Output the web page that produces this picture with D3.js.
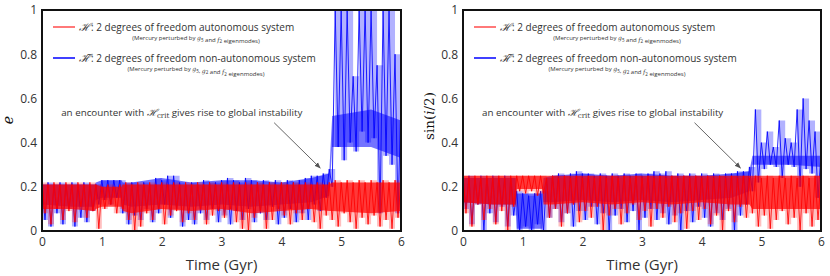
<!DOCTYPE html>
<html>
<head>
<meta charset="utf-8">
<script src="https://cdn.jsdelivr.net/npm/d3@7"></script>
<style>
  body { margin: 0; background: #fff; }
  text { font-family: "Open Sans", "DejaVu Sans", sans-serif; fill: #333; }
</style>
</head>
<body>
<div id="chart"></div>
<script>
// time grid: one sample every 0.05 Gyr, values alternate local max / local min
var tStep = 0.05;

var eRed = [
  0.22,0.08, 0.21,0.03, 0.22,0.10, 0.21,0.05, 0.22,0.09, 0.21,0.04, 0.22,0.11, 0.21,0.06, 0.22,0.09, 0.21,0.01,
  0.20,0.10, 0.21,0.12, 0.20,0.08, 0.21,0.10, 0.22,0.05, 0.21,0.00, 0.22,0.02, 0.21,0.08, 0.22,0.05, 0.21,0.10,
  0.22,0.03, 0.21,0.07, 0.22,0.09, 0.21,0.04, 0.22,0.08, 0.21,0.05, 0.22,0.10, 0.21,0.03, 0.22,0.07, 0.21,0.09,
  0.22,0.06, 0.21,0.10, 0.22,0.04, 0.21,0.01, 0.22,0.00, 0.21,0.06, 0.22,0.09, 0.21,0.01, 0.22,0.05, 0.21,0.10,
  0.22,0.07, 0.21,0.03, 0.22,0.08, 0.21,0.05, 0.22,0.10, 0.21,0.04, 0.22,0.01, 0.21,0.07, 0.22,0.05, 0.23,0.02,
  0.22,0.08, 0.23,0.04, 0.22,0.01, 0.23,0.06, 0.22,0.03, 0.23,0.07, 0.22,0.02, 0.23,0.05, 0.22,0.01, 0.23,0.06,
  0.22
];

var eBlue = [
  0.21,0.05, 0.22,0.02, 0.21,0.08, 0.22,0.03, 0.21,0.10, 0.22,0.02, 0.21,0.06, 0.22,0.04, 0.21,0.09, 0.21,0.12,
  0.23,0.14, 0.23,0.12, 0.23,0.15, 0.23,0.08, 0.21,0.03, 0.22,0.07, 0.21,0.05, 0.22,0.10, 0.21,0.04, 0.24,0.08,
  0.23,0.12, 0.25,0.06, 0.25,0.10, 0.22,0.02, 0.21,0.05, 0.22,0.03, 0.21,0.08, 0.23,0.05, 0.22,0.10, 0.22,0.04,
  0.23,0.07, 0.24,0.03, 0.23,0.09, 0.22,0.05, 0.24,0.10, 0.23,0.04, 0.22,0.08, 0.23,0.05, 0.22,0.11, 0.23,0.03,
  0.22,0.06, 0.23,0.10, 0.22,0.04, 0.23,0.08, 0.24,0.05, 0.25,0.12, 0.25,0.09, 0.26,0.15, 0.28,0.20, 1.00,0.38,
  1.00,0.32, 1.00,0.40, 0.70,0.36, 1.00,0.45, 1.00,0.40, 1.00,0.42, 0.75,0.08, 1.00,0.34, 1.00,0.30, 0.80,0.08,
  0.60
];

var iRed = [
  0.25,0.08, 0.24,0.02, 0.25,0.12, 0.24,0.05, 0.25,0.10, 0.24,0.03, 0.25,0.09, 0.24,0.00, 0.25,0.11, 0.25,0.18,
  0.25,0.17, 0.25,0.18, 0.25,0.16, 0.25,0.17, 0.24,0.06, 0.25,0.10, 0.24,0.02, 0.25,0.08, 0.24,0.12, 0.25,0.04,
  0.24,0.09, 0.25,0.06, 0.24,0.11, 0.25,0.00, 0.24,0.07, 0.25,0.10, 0.24,0.03, 0.25,0.08, 0.24,0.12, 0.25,0.05,
  0.24,0.09, 0.25,0.02, 0.24,0.10, 0.25,0.06, 0.24,0.11, 0.25,0.04, 0.24,0.08, 0.25,0.01, 0.24,0.09, 0.25,0.05,
  0.24,0.10, 0.25,0.03, 0.24,0.07, 0.25,0.00, 0.24,0.09, 0.25,0.04, 0.24,0.11, 0.25,0.06, 0.24,0.08, 0.25,0.02,
  0.24,0.07, 0.25,0.01, 0.24,0.05, 0.25,0.09, 0.24,0.03, 0.25,0.06, 0.24,0.00, 0.25,0.08, 0.24,0.02, 0.25,0.05,
  0.24
];

var iBlue = [
  0.24,0.10, 0.25,0.03, 0.24,0.12, 0.25,0.00, 0.24,0.08, 0.25,0.04, 0.24,0.11, 0.25,0.02, 0.24,0.07, 0.18,0.00,
  0.17,0.02, 0.16,0.00, 0.17,0.03, 0.18,0.00, 0.24,0.06, 0.25,0.10, 0.26,0.04, 0.25,0.08, 0.26,0.02, 0.27,0.09,
  0.26,0.05, 0.26,0.11, 0.25,0.03, 0.26,0.08, 0.25,0.00, 0.26,0.07, 0.25,0.10, 0.26,0.04, 0.25,0.09, 0.26,0.00,
  0.25,0.06, 0.26,0.10, 0.27,0.05, 0.26,0.08, 0.27,0.03, 0.25,0.07, 0.26,0.00, 0.25,0.09, 0.26,0.04, 0.25,0.11,
  0.26,0.06, 0.25,0.02, 0.26,0.08, 0.25,0.05, 0.26,0.10, 0.26,0.00, 0.27,0.07, 0.27,0.12, 0.29,0.18, 0.55,0.22,
  0.40,0.28, 0.45,0.30, 0.38,0.29, 0.50,0.24, 0.42,0.30, 0.40,0.29, 0.55,0.20, 0.60,0.28, 0.50,0.26, 0.45,0.15,
  0.35
];

// dense core of each band (where the curve spends most of its time)
var coreT    = [0, 0.5, 0.88, 0.9, 1.0, 1.33, 1.35, 1.5, 2, 2.5, 3, 3.5, 4, 4.5, 4.8, 4.85, 5.5, 6];
var eRedLo   = [0.10,0.10,0.09,0.10,0.11,0.11,0.09,0.08,0.10,0.09,0.10,0.08,0.09,0.10,0.09,0.09,0.08,0.09];
var eRedHi   = [0.21,0.21,0.21,0.21,0.20,0.20,0.21,0.21,0.21,0.21,0.21,0.21,0.21,0.21,0.21,0.22,0.22,0.22];
var eBlueLo  = [0.12,0.11,0.11,0.14,0.15,0.15,0.12,0.11,0.12,0.11,0.12,0.11,0.12,0.13,0.16,0.38,0.38,0.33];
var eBlueHi  = [0.21,0.21,0.21,0.22,0.23,0.23,0.22,0.22,0.24,0.22,0.23,0.23,0.22,0.24,0.26,0.52,0.55,0.50];
var iRedLo   = [0.13,0.12,0.12,0.19,0.19,0.19,0.12,0.12,0.13,0.12,0.13,0.12,0.13,0.12,0.12,0.10,0.10,0.10];
var iRedHi   = [0.25,0.25,0.25,0.25,0.25,0.25,0.25,0.25,0.25,0.25,0.25,0.25,0.25,0.25,0.25,0.25,0.25,0.25];
var iBlueLo  = [0.13,0.12,0.12,0.01,0.01,0.01,0.13,0.13,0.14,0.13,0.14,0.13,0.14,0.15,0.18,0.30,0.30,0.29];
var iBlueHi  = [0.24,0.24,0.24,0.17,0.17,0.17,0.24,0.25,0.26,0.25,0.26,0.25,0.25,0.26,0.27,0.34,0.34,0.34];

var xTicks = [0, 1, 2, 3, 4, 5, 6];
var yTicks = [0, 0.2, 0.4, 0.6, 0.8, 1];
var legendMain = ["2 degrees of freedom autonomous system", "2 degrees of freedom non-autonomous system"];
var legendSub = [
  ["(Mercury perturbed by ", "g", "5", " and ", "f", "2", " eigenmodes)"],
  ["(Mercury perturbed by ", "g", "5", ", ", "g", "2", " and ", "f", "2", " eigenmodes)"]
];
var arrowFrom = [3.88, 0.49], arrowTo = [4.65, 0.285];
var noteAt = [0.32, 0.52];

var width = 830, height = 276;
var plotTop = 10, plotBottom = 231;

var svg = d3.select('#chart').append('svg')
  .attr('width', width)
  .attr('height', height);

svg.append('defs').append('marker')
  .attr('id', 'arr')
  .attr('viewBox', '0 0 10 10')
  .attr('refX', 9).attr('refY', 5)
  .attr('markerWidth', 7).attr('markerHeight', 7)
  .attr('orient', 'auto')
  .append('path')
    .attr('d', 'M0,1 L10,5 L0,9 z')
    .attr('fill', '#555');

var panels = [
  { id: 'pe', left: 42, right: 401, red: eRed, blue: eBlue,
    redCore: [eRedLo, eRedHi], blueCore: [eBlueLo, eBlueHi], ylab: 'e' },
  { id: 'pi', left: 463, right: 821, red: iRed, blue: iBlue,
    redCore: [iRedLo, iRedHi], blueCore: [iBlueLo, iBlueHi], ylab: 'sin' }
];

panels.forEach(function(p) {
  var x = d3.scaleLinear().domain([0, 6]).range([p.left, p.right]);
  var y = d3.scaleLinear().domain([0, 1]).range([plotBottom, plotTop]);

  svg.append('clipPath').attr('id', p.id + 'clip')
    .append('rect')
      .attr('x', p.left).attr('y', plotTop)
      .attr('width', p.right - p.left).attr('height', plotBottom - plotTop);

  var g = svg.append('g').attr('clip-path', 'url(#' + p.id + 'clip)');

  var band = d3.area()
    .x(function(d, i) { return x(coreT[i]); })
    .y0(function(d) { return y(d[0]); })
    .y1(function(d) { return y(d[1]); });
  var envelope = d3.area()
    .curve(d3.curveStepAfter)
    .x(function(d) { return x(d.t); })
    .y0(function(d) { return y(d.lo); })
    .y1(function(d) { return y(d.hi); });
  var zig = d3.line()
    .x(function(d, i) { return x(i * tStep); })
    .y(function(d) { return y(d); });

  function drawSeries(vals, core, color, envOp, coreOp, lineOp) {
    // light envelope: each peak with its following trough
    var env = [];
    for (var k = 0; k + 1 < vals.length; k += 2) {
      env.push({ t: k * tStep, hi: vals[k], lo: vals[k + 1] });
    }
    env.push({ t: (vals.length - 1) * tStep, hi: vals[vals.length - 1], lo: env[env.length - 1].lo });
    g.append('path')
      .attr('d', envelope(env))
      .attr('fill', color)
      .attr('fill-opacity', envOp);

    var pairs = core[0].map(function(v, i) { return [v, core[1][i]]; });
    g.append('path')
      .attr('d', band(pairs))
      .attr('fill', color)
      .attr('fill-opacity', coreOp);
    g.append('path')
      .attr('d', zig(vals))
      .attr('fill', 'none')
      .attr('stroke', color)
      .attr('stroke-width', 1)
      .attr('stroke-opacity', lineOp);
  }

  drawSeries(p.blue, p.blueCore, '#0000ff', 0.3, 0.55, 0.85);
  drawSeries(p.red, p.redCore, '#ff0000', 0.25, 0.7, 0.85);

  // axes without tick marks
  svg.append('g')
    .attr('transform', 'translate(' + p.left + ',0)')
    .call(d3.axisLeft(y).tickValues(yTicks).tickSize(0).tickPadding(5)
      .tickFormat(function(d) { return d === 0 || d === 1 ? String(d) : d.toFixed(1); }))
    .call(function(a) { a.select('.domain').remove(); })
    .selectAll('text')
      .style('font-family', '"Open Sans", sans-serif')
      .style('font-size', '12px')
      .style('fill', '#333');

  svg.append('g')
    .attr('transform', 'translate(0,' + plotBottom + ')')
    .call(d3.axisBottom(x).tickValues(xTicks).tickSize(0).tickPadding(6)
      .tickFormat(d3.format('d')))
    .call(function(a) { a.select('.domain').remove(); })
    .selectAll('text')
      .style('font-family', '"Open Sans", sans-serif')
      .style('font-size', '12px')
      .style('fill', '#333');

  // frame
  svg.append('rect')
    .attr('x', p.left).attr('y', plotTop)
    .attr('width', p.right - p.left).attr('height', plotBottom - plotTop)
    .attr('fill', 'none')
    .attr('stroke', '#111')
    .attr('stroke-width', 2);

  svg.append('text')
    .attr('x', (p.left + p.right) / 2).attr('y', 270)
    .attr('text-anchor', 'middle')
    .style('font-size', '15px')
    .text('Time (Gyr)');

  // y label
  var yl = svg.append('text')
    .attr('transform', 'translate(' + (p.left - 29) + ',' + (p.ylab === 'e' ? 120 : 116) + ') rotate(-90)')
    .attr('text-anchor', 'middle')
    .style('font-family', '"DejaVu Serif", serif')
    .style('font-size', p.ylab === 'e' ? '14px' : '13.5px')
    .style('fill', '#111');
  if (p.ylab === 'e') {
    yl.append('tspan').style('font-style', 'italic').text('e');
  } else {
    yl.append('tspan').text('sin(');
    yl.append('tspan').style('font-style', 'italic').text('i');
    yl.append('tspan').text('/2)');
  }

  // legend
  var lx = p.left + 11;
  [['#ff0000', 27], ['#0000ff', 58]].forEach(function(l, k) {
    svg.append('line')
      .attr('x1', lx).attr('x2', lx + 22)
      .attr('y1', l[1]).attr('y2', l[1])
      .attr('stroke', l[0]).attr('stroke-width', 1.5)
      .attr('stroke-opacity', k === 0 ? 0.7 : 1);
    var t = svg.append('text')
      .attr('x', lx + 26).attr('y', l[1] + 4)
      .style('font-size', '10px');
    t.append('tspan')
      .style('font-family', '"DejaVu Serif", serif')
      .style('font-style', 'italic')
      .style('font-size', '11px')
      .text(k === 0 ? 'ℋ' : 'ℋ\u0303');
    t.append('tspan').text(':  ' + legendMain[k]);
    var s = svg.append('text')
      .attr('x', lx + 143).attr('y', l[1] + 13)
      .attr('text-anchor', 'middle')
      .style('font-size', '6px');
    legendSub[k].forEach(function(part) {
      if (part === 'g' || part === 'f') {
        s.append('tspan').style('font-style', 'italic').style('font-family', '"DejaVu Serif", serif').text(part);
      } else if (/^\d$/.test(part)) {
        s.append('tspan').attr('dy', 1.5).style('font-size', '4.5px').text(part);
        s.append('tspan').attr('dy', -1.5).text('');
      } else {
        s.append('tspan').text(part);
      }
    });
  });

  // annotation
  var note = svg.append('text')
    .attr('x', x(noteAt[0])).attr('y', y(noteAt[1]))
    .style('font-size', '9.8px');
  note.append('tspan').text('an encounter with ');
  note.append('tspan')
    .style('font-family', '"DejaVu Serif", serif')
    .style('font-style', 'italic')
    .text('ℋ');
  note.append('tspan').attr('dy', 2)
    .style('font-family', '"DejaVu Serif", serif')
    .style('font-size', '7px').text('crit');
  note.append('tspan').attr('dy', -2).text(' gives rise to global instability');

  svg.append('line')
    .attr('x1', x(arrowFrom[0])).attr('y1', y(arrowFrom[1]))
    .attr('x2', x(arrowTo[0])).attr('y2', y(arrowTo[1]))
    .attr('stroke', '#555').attr('stroke-width', 0.9)
    .attr('marker-end', 'url(#arr)');
});
</script>
</body>
</html>
